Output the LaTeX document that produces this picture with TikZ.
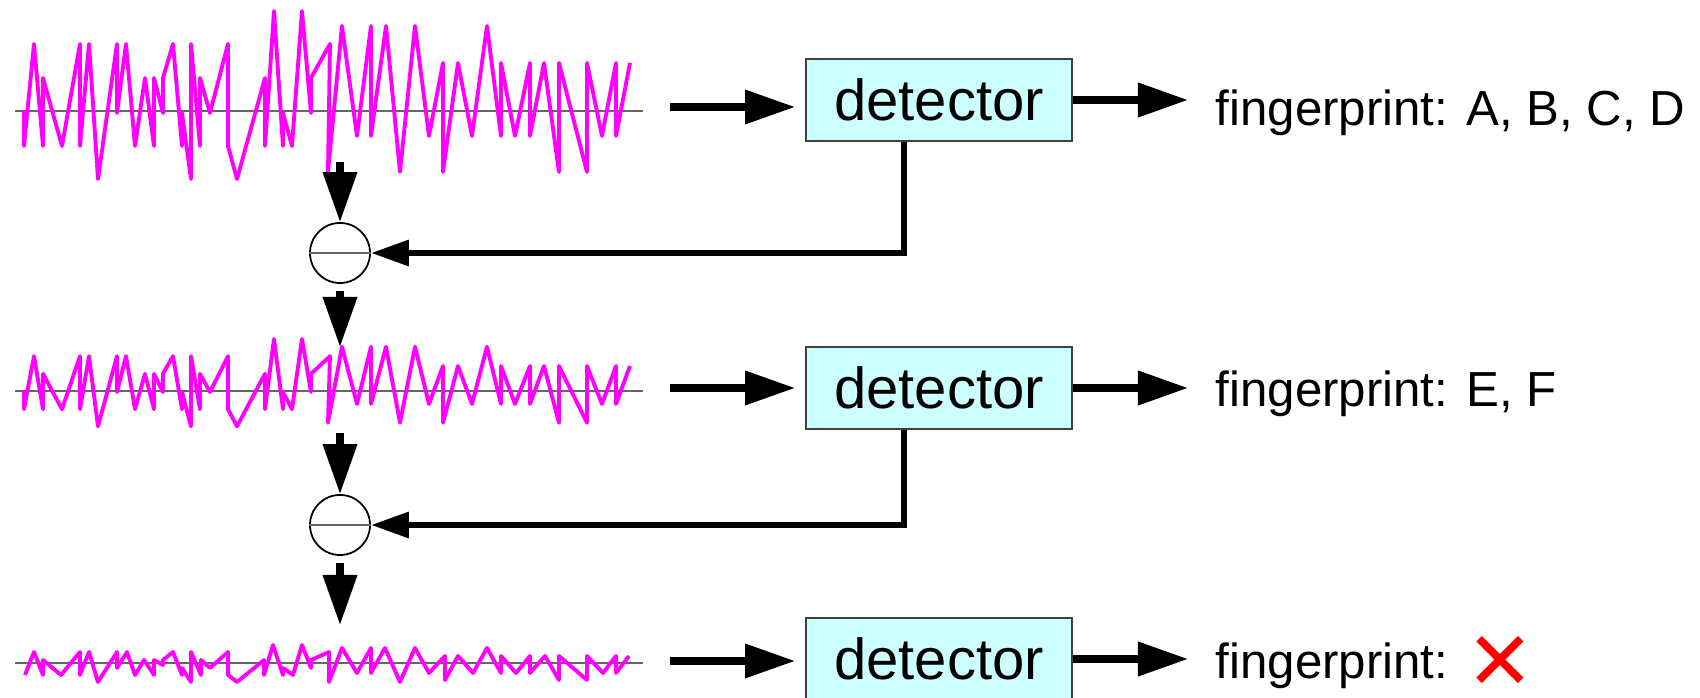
\documentclass[tikz,border=0pt]{standalone}
\usepackage{fontspec}
\setmainfont{Liberation Sans}
\newfontfamily\symfont{DejaVu Sans}
\usetikzlibrary{arrows.meta, positioning}
\definecolor{detfill}{RGB}{204,255,255}
\definecolor{wavecol}{RGB}{255,0,255}

% sample points of the signals (x, amplitude)
\def\toppts{(24,0) -- (24,-35) -- (34,67) -- (43,-35) -- (43,33) -- (62,-35) -- (80,67) -- (80,-35) -- (89,67) -- (98,-68) -- (117,67) -- (117,-2) -- (126,67) -- (135,-35) -- (145,33) -- (154,-35) -- (154,33) -- (163,-2) -- (163,33) -- (173,67) -- (182,-35) -- (182,-2) -- (191,-68) -- (191,67) -- (200,-35) -- (200,33) -- (210,-2) -- (228,67) -- (228,-35) -- (237,-68) -- (265,33) -- (265,-35) -- (274,100) -- (283,-35) -- (283,-2) -- (292,-35) -- (302,100) -- (311,-2) -- (311,33) -- (330,67) -- (328,-61) -- (342,85) -- (357,-25) -- (371,85) -- (371,-25) -- (386,85) -- (400,-61) -- (415,85) -- (429,-25) -- (443,48) -- (443,-61) -- (458,48) -- (472,-25) -- (487,85) -- (501,-25) -- (501,48) -- (515,-25) -- (530,48) -- (530,-25) -- (544,48) -- (559,-61) -- (559,48) -- (587,-61) -- (587,48) -- (602,-25) -- (616,48) -- (616,-25) -- (630,48)}
\def\lowpts{(25,-12) -- (34,11) -- (43,-12) -- (43,3) -- (61,-12) -- (80,11) -- (80,-12) -- (89,11) -- (98,-19) -- (117,11) -- (117,-5) -- (127,11) -- (135,-12) -- (144,3) -- (154,-12) -- (154,3) -- (163,-2) -- (163,3) -- (173,11) -- (182,-12) -- (182,-5) -- (191,-19) -- (191,11) -- (201,-12) -- (201,3) -- (210,-5) -- (228,11) -- (228,-12) -- (237,-19) -- (264,3) -- (264,-12) -- (273,18) -- (283,-12) -- (283,-5) -- (293,-12) -- (302,18) -- (311,-5) -- (311,3) -- (329,11) -- (329,-19) -- (342,15) -- (357,-10) -- (371,15) -- (371,-10) -- (385,15) -- (400,-19) -- (415,15) -- (429,-10) -- (445,7) -- (445,-17) -- (458,7) -- (473,-10) -- (487,15) -- (501,-10) -- (501,7) -- (516,-10) -- (530,7) -- (530,-10) -- (545,7) -- (559,-17) -- (559,7) -- (587,-17) -- (587,7) -- (603,-10) -- (616,7) -- (616,-10) -- (629,7)}

\begin{document}
\begin{tikzpicture}[x=0.01cm, y=-0.01cm,
  detector/.style={rectangle, draw=black!75, line width=0.5pt, fill=detfill, minimum width=2.66cm, minimum height=0.82cm, inner sep=0pt, font=\fontsize{16.5}{20}\selectfont},
  subtract/.style={circle, draw, line width=0.5pt, minimum size=0.6cm, inner sep=0pt},
  result/.style={anchor=base west, inner sep=0pt, font=\fontsize{14}{17}\selectfont},
  arr/.style={line width=2pt, -{Triangle[length=0.5cm, width=0.33cm]}},
  fb/.style={line width=1.8pt, -{Triangle[length=0.38cm, width=0.25cm]}},
  wave/.style={wavecol, line width=1.1pt, line join=round},
  axis/.style={black!60, line width=0.6pt}]
\useasboundingbox (0,0) rectangle (1700,698);

% Signals
\draw[axis] (15,111) -- (643,111);
\begin{scope}[shift={(0,111)}, yscale=-1]
\draw[wave] \toppts;
\end{scope}
\draw[axis] (15,391) -- (643,391);
\begin{scope}[shift={(0,391)}, yscale=-0.52]
\draw[wave] \toppts;
\end{scope}
\draw[axis] (15,663) -- (643,663);
\begin{scope}[shift={(0,663)}, yscale=-1]
\draw[wave] \lowpts;
\end{scope}

% Detectors and results
\node[detector] (det1) at (939,100) {detector};
\node[detector] (det2) at (939,388) {detector};
\node[detector] (det3) at (939,659) {detector};
\node[result] (fp1) at (1215,126) {fingerprint: A, B, C, D};
\node[result] (fp2) at (1215,407) {fingerprint: E, F};
\node[result] (fp3) at (1215,679) {fingerprint: \raisebox{-0.11cm}{\textcolor{red}{\symfont\fontsize{23}{23}\selectfont ✕}}};

\coordinate (in1) at (670,107);
\coordinate (in2) at (670,388);
\coordinate (in3) at (670,661);
\coordinate (out1) at (1188,100);
\coordinate (out2) at (1188,388);
\coordinate (out3) at (1188,659);
\draw[arr, shorten >=0.1cm] (in1) -- (in1 -| det1.west);
\draw[arr, shorten >=0.1cm] (in2) -- (in2 -| det2.west);
\draw[arr, shorten >=0.1cm] (in3) -- (in3 -| det3.west);
\draw[arr] (det1.east) -- (out1);
\draw[arr] (det2.east) -- (out2);
\draw[arr] (det3.east) -- (out3);

% Subtraction
\node[subtract] (sub1) at (340,253) {};
\node[subtract] (sub2) at (340,525) {};
\draw[axis] (sub1.west) -- (sub1.east);
\draw[axis] (sub2.west) -- (sub2.east);
\coordinate (top1) at (340,162);
\coordinate (mid1) at (340,347);
\coordinate (top2) at (340,433);
\coordinate (low2) at (340,625);
\draw[arr] (top1) -- (sub1);
\draw[arr, shorten <=0.07cm] (sub1) -- (mid1);
\draw[arr] (top2) -- (sub2);
\draw[arr, shorten <=0.07cm] (sub2) -- (low2);
\draw[fb] ([xshift=-0.35cm]det1.south) |- (sub1);
\draw[fb] ([xshift=-0.35cm]det2.south) |- (sub2);
\end{tikzpicture}
\end{document}
